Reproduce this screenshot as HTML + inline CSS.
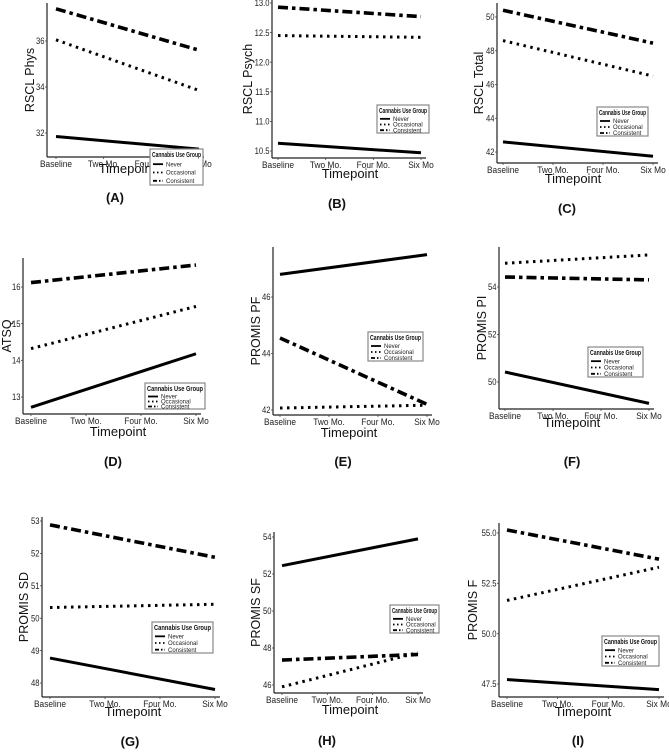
<!DOCTYPE html>
<html><head><meta charset="utf-8"><style>
html,body{margin:0;padding:0;background:#fff;}
svg{display:block;font-family:"Liberation Sans",sans-serif;}
</style></head><body>
<svg id="fig" width="669" height="754" viewBox="0 0 669 754" xmlns="http://www.w3.org/2000/svg"></svg>
<script>
const categories = ["Baseline", "Two Mo.", "Four Mo.", "Six Mo"];
const groups = ["Never", "Occasional", "Consistent"];
const endpointIdx = [0, 3];
// values at Baseline and Six Mo for [Never, Occasional, Consistent]
const neverA = [31.85, 31.3], occA = [36.05, 33.85], consA = [37.4, 35.6];
const neverB = [10.63, 10.47], occB = [12.45, 12.42], consB = [12.93, 12.77];
const neverC = [42.6, 41.75], occC = [48.6, 46.5], consC = [50.4, 48.45];
const neverD = [12.72, 14.18], occD = [14.32, 15.47], consD = [16.12, 16.6];
const neverE = [46.8, 47.5], occE = [42.07, 42.17], consE = [44.55, 42.2];
const neverF = [50.42, 49.1], occF = [55.0, 55.35], consF = [54.42, 54.3];
const neverG = [48.77, 47.8], occG = [50.33, 50.43], consG = [52.88, 51.88];
const neverH = [52.45, 53.9], occH = [45.9, 47.75], consH = [47.35, 47.65];
const neverI = [47.72, 47.22], occI = [51.65, 53.3], consI = [55.15, 53.7];
const ticksA = [32, 34, 36], ticksB = [10.5, 11.0, 11.5, 12.0, 12.5, 13.0], ticksC = [42, 44, 46, 48, 50];
const ticksD = [13, 14, 15, 16], ticksE = [42, 44, 46], ticksF = [50, 52, 54];
const ticksG = [48, 49, 50, 51, 52, 53], ticksH = [46, 48, 50, 52, 54], ticksI = [47.5, 50.0, 52.5, 55.0];
const titles = ["RSCL Phys","RSCL Psych","RSCL Total","ATSQ","PROMIS PF","PROMIS PI","PROMIS SD","PROMIS SF","PROMIS F"];
const letters = ["(A)","(B)","(C)","(D)","(E)","(F)","(G)","(H)","(I)"];

const NS = "http://www.w3.org/2000/svg";
const svg = document.getElementById("fig");
function mk(tag, attrs, parent) {
  const e = document.createElementNS(NS, tag);
  for (const k in attrs) e.setAttribute(k, attrs[k]);
  (parent || svg).appendChild(e);
  return e;
}
const panels = [
  {d:[neverA,occA,consA], t:ticksA, L:47, T:3, B:157, x0:56, x3:199, rv:36, rp:41, ppu:23, yl:33, lg:[150,149,53,36], tp:[127,173], lt:[115,202], dec:0},
  {d:[neverB,occB,consB], t:ticksB, L:272, T:0, B:158, x0:278, x3:421, rv:13, rp:3, ppu:59.2, yl:251, lg:[377,105,52,28], tp:[350,178], lt:[337,208], dec:1},
  {d:[neverC,occC,consC], t:ticksC, L:497, T:3, B:163, x0:503, x3:653, rv:50, rp:17, ppu:16.875, yl:482, lg:[597,107,51,29], tp:[573,183], lt:[567,213], dec:0},
  {d:[neverD,occD,consD], t:ticksD, L:23, T:258, B:414, x0:31, x3:196, rv:16, rp:287, ppu:36.67, yl:10, lg:[145,383,60,26], tp:[118,436], lt:[113,466], dec:0},
  {d:[neverE,occE,consE], t:ticksE, L:273, T:247, B:415, x0:280, x3:427, rv:46, rp:297, ppu:28.25, yl:259, lg:[368,332,55,29], tp:[349,437], lt:[343,466], dec:0},
  {d:[neverF,occF,consF], t:ticksF, L:499, T:247, B:409, x0:505, x3:649, rv:54, rp:287, ppu:23.75, yl:485, lg:[588,347,55,30], tp:[572,427], lt:[572,466], dec:0},
  {d:[neverG,occG,consG], t:ticksG, L:42, T:517, B:697, x0:50, x3:215, rv:53, rp:521, ppu:32.4, yl:27, lg:[152,622,61,31], tp:[133,716], lt:[130,746], dec:0},
  {d:[neverH,occH,consH], t:ticksH, L:274, T:532, B:693, x0:282, x3:418, rv:54, rp:537, ppu:18.5, yl:259, lg:[390,605,49,28], tp:[350,714], lt:[327,745], dec:0},
  {d:[neverI,occI,consI], t:ticksI, L:499, T:523, B:697, x0:507, x3:659, rv:55, rp:533, ppu:20.13, yl:476, lg:[602,636,57,30], tp:[583,716], lt:[578,745], dec:1}
];
const styles = [
  {w:3, dash:null},
  {w:3, dash:"2.5 4.5"},
  {w:3.6, dash:"10 4 3.5 4"}
];
panels.forEach((p, pi) => {
  const g = mk("g", {});
  
  
  const xs = i => p.x0 + (p.x3 - p.x0) * i / 3;
  const ys = v => p.rp + (p.rv - v) * p.ppu;
  const ya = mk("line", {x1:p.L, y1:p.T, x2:p.L, y2:p.B, stroke:"#222", "stroke-width":1.2}, g);
  
  
  const xa = mk("line", {x1:p.L, y1:p.B, x2:p.x3 + 5, y2:p.B, stroke:"#222", "stroke-width":1.2}, g);
  
  
  categories.forEach((c, i) => {
    mk("line", {x1:xs(i), y1:p.B, x2:xs(i), y2:p.B+2, stroke:"#444", "stroke-width":0.8}, g);
    const tx = mk("text", {x:0, y:0, "font-size":9.5, "text-anchor":"middle", fill:"#222",
      transform:"translate(" + xs(i) + "," + (p.B + 10) + ") scale(0.88,1)"}, g);
    tx.textContent = c;
    
    
  });
  p.t.forEach(v => {
    const y = ys(v);
    mk("line", {x1:p.L-2, y1:y, x2:p.L, y2:y, stroke:"#444", "stroke-width":0.8}, g);
    const tx = mk("text", {x:0, y:0, "font-size":9, "text-anchor":"end", fill:"#222",
      transform:"translate(" + (p.L - 2.5) + "," + (y + 3.2) + ") scale(0.85,1)"}, g);
    tx.textContent = v.toFixed(p.dec);
    
    
  });
  const ylab = mk("text", {x:0, y:0, "font-size":12.5, "text-anchor":"middle", fill:"#111",
    transform:"translate(" + (p.yl + 1) + "," + ((p.T + p.B) / 2) + ") rotate(-90)"}, g);
  ylab.textContent = titles[pi];
  
  
  const xl = mk("text", {x:p.tp[0], y:p.tp[1], "font-size":13, "text-anchor":"middle", fill:"#111"}, g);
  xl.textContent = "Timepoint";
  
  
  p.d.forEach((vals, si) => {
    const st = styles[si];
    const attrs = {x1:xs(endpointIdx[0]), y1:ys(vals[0]), x2:xs(endpointIdx[1]), y2:ys(vals[1]),
      stroke:"#000", "stroke-width":st.w};
    if (st.dash) attrs["stroke-dasharray"] = st.dash;
    const ln = mk("line", attrs, g);
    
    
  });
  const [lx, ly, lw, lh] = p.lg;
  const lgg = mk("g", {}, g);
  
  
  mk("rect", {x:lx, y:ly, width:lw, height:lh, fill:"#fff", stroke:"#888", "stroke-width":1.2}, lgg);
  const lt = mk("text", {x:lx + 2, y:ly + 8, "font-size":7.5, "font-weight":"bold", textLength:lw - 4, lengthAdjust:"spacingAndGlyphs", fill:"#111"}, lgg);
  lt.textContent = "Cannabis Use Group";
  
  
  const step = (lh - 11) / 3;
  groups.forEach((gn, si) => {
    const yy = ly + 12 + step * si + step / 2 - 1;
    const st = styles[si];
    const a = {x1:lx + 3, y1:yy, x2:lx + 13, y2:yy, stroke:"#000", "stroke-width":1.8};
    if (st.dash) a["stroke-dasharray"] = si === 1 ? "1.5 2.5" : "4 2 1.5 2";
    mk("line", a, lgg);
    const et = mk("text", {x:lx + 16, y:yy + 2.2, "font-size":6, fill:"#222"}, lgg);
    et.textContent = gn;
    
    
  });
  const pl = mk("text", {x:p.lt[0], y:p.lt[1], "font-size":13, "font-weight":"bold", "text-anchor":"middle", fill:"#111"}, g);
  pl.textContent = letters[pi];
  
  
});
</script>
</body></html>
